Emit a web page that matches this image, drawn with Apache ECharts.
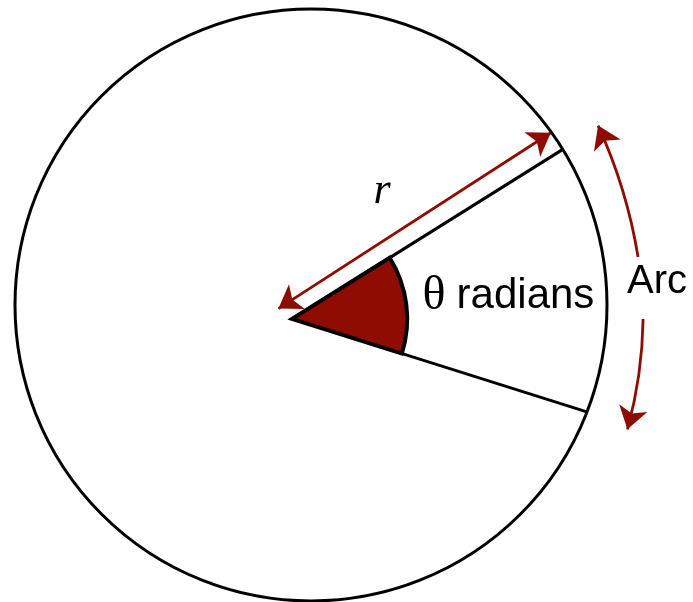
<!DOCTYPE html>
<html>
<head>
<meta charset="utf-8">
<script src="https://cdn.jsdelivr.net/npm/echarts@6/dist/echarts.min.js"></script>
<style>
  * { margin: 0; padding: 0; }
  html, body { background: #fff; }
  #chart { width: 693px; height: 602px; }
</style>
</head>
<body>
<div id="chart"></div>
<script>
// geometry in units of the circle radius, circle centred on (0, 0)
const circleCenter = [0, 0];
const circleRadius = 1;
const vertex = [-0.064, -0.047];
const spokeEnds = [[0.848, 0.524], [0.932, -0.361]];
const sectorRadius = 0.389;
const radiusArrow = [[-0.11, -0.012], [0.81, 0.582]];
const arcArrowUpper = [[1.105, 0.162], [0.97, 0.606]];
const arcArrowLower = [[1.122, -0.047], [1.069, -0.42]];
const labels = ["r", "θ radians", "Arc"];
const labelPoints = [[0.240, 0.385], [0.667, 0.030], [1.169, 0.078]];

const RED = "#8e0c02";

const dom = document.getElementById("chart");
const myChart = echarts.init(dom, null, { renderer: "canvas" });

const option = {
  animation: false,
  backgroundColor: "#fff",
  grid: { left: 15, top: 9, width: 592, height: 592 },
  xAxis: { type: "value", min: -1, max: 1, show: false },
  yAxis: { type: "value", min: -1, max: 1, show: false },
  series: [
    {
      // the circle
      type: "custom",
      z: 1,
      data: [circleCenter],
      renderItem: function (params, api) {
        const c = api.coord(circleCenter);
        const r = api.size([circleRadius, 0])[0];
        return {
          type: "circle",
          shape: { cx: c[0], cy: c[1], r: r },
          style: { fill: "none", stroke: "#000", lineWidth: 3 },
        };
      },
    },
    {
      // the two radii
      type: "line",
      z: 2,
      data: [spokeEnds[0], vertex, spokeEnds[1]],
      showSymbol: false,
      symbol: "none",
      lineStyle: { color: "#000", width: 3, join: "miter" },
    },
    {
      // shaded angle
      type: "custom",
      z: 3,
      data: [vertex],
      renderItem: function (params, api) {
        const c = api.coord(vertex);
        const p1 = api.coord(spokeEnds[0]);
        const p2 = api.coord(spokeEnds[1]);
        const r = api.size([sectorRadius, 0])[0];
        return {
          type: "sector",
          shape: {
            cx: c[0],
            cy: c[1],
            r0: 0,
            r: r,
            startAngle: Math.atan2(p1[1] - c[1], p1[0] - c[0]),
            endAngle: Math.atan2(p2[1] - c[1], p2[0] - c[0]),
            clockwise: true,
          },
          style: { fill: RED, stroke: "#000", lineWidth: 4, lineJoin: "miter" },
        };
      },
    },
    {
      type: "lines",
      coordinateSystem: "cartesian2d",
      z: 4,
      clip: false,
      symbolSize: 22, // same size at both ends
      lineStyle: { color: RED, width: 2.8, opacity: 1 },
      data: [
        { coords: radiusArrow, symbol: ["arrow", "arrow"], lineStyle: { curveness: 0 } },
        { coords: arcArrowUpper, symbol: ["none", "arrow"], lineStyle: { curveness: -0.067 } },
        { coords: arcArrowLower, symbol: ["none", "arrow"], lineStyle: { curveness: 0.064 } },
      ],
    },
    {
      // text labels
      type: "custom",
      z: 5,
      data: labelPoints,
      renderItem: function (params, api) {
        const p = api.coord(labelPoints[params.dataIndex]);
        const text = labels[params.dataIndex];
        let style = {
          text: text,
          fill: "#000",
          align: "center",
          verticalAlign: "middle",
          font: '40px "Liberation Sans", Arial, sans-serif',
        };
        if (text === "r") {
          style.font = 'italic 44px "Liberation Serif", "Times New Roman", serif';
        } else if (text.indexOf("θ") === 0) {
          style.text = "{t|θ} {s|radians}";
          style.rich = {
            t: { font: '48px "Liberation Serif", "Times New Roman", serif', fill: "#000" },
            s: { font: '42px "Liberation Sans", Arial, sans-serif', fill: "#000" },
          };
        }
        return { type: "text", x: p[0], y: p[1], style: style };
      },
    },
  ],
};

myChart.setOption(option);
window.addEventListener("resize", myChart.resize);
</script>
</body>
</html>
